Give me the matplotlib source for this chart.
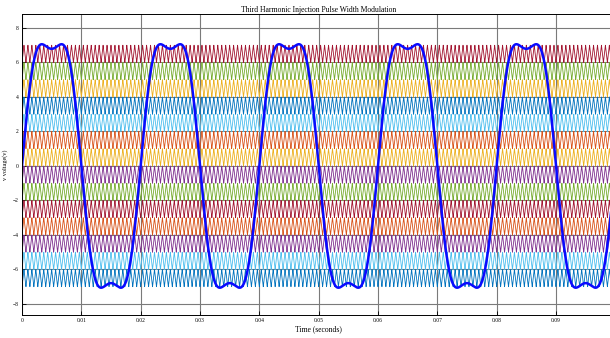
import numpy as np
import matplotlib
matplotlib.use("Agg")
import matplotlib.pyplot as plt

# signal parameters
f_mod = 50.0            # modulating frequency (Hz)
f_car = 1500.0          # carrier frequency (Hz)
amp_mod = 8.15          # fundamental amplitude
third_ratio = 1.0 / 6   # third harmonic injection ratio
t_end = 0.1

# carrier bands (lower edge), top to bottom, and their colours
band_lows = [6, 5, 4, 3, 2, 1, 0, -1, -2, -3, -4, -5, -6, -7]
band_colors = ["#a2142f", "#77ac30", "#edb120", "#0072bd", "#4dbeee", "#d95319", "#edb120",
               "#7e2f8e", "#77ac30", "#a2142f", "#d95319", "#7e2f8e", "#4dbeee", "#0072bd"]

x_ticks = [0, 0.01, 0.02, 0.03, 0.04, 0.05, 0.06, 0.07, 0.08, 0.09]
x_labels = ["0", "0.01", "0.02", "0.03", "0.04", "0.05", "0.06", "0.07", "0.08", "0.09"]
y_ticks = [-8, -6, -4, -2, 0, 2, 4, 6, 8]

t = np.linspace(0, t_end, 40001)
w = 2 * np.pi * f_mod
mod = amp_mod * (np.sin(w * t) + third_ratio * np.sin(3 * w * t))
tri = 1 - np.abs(((t * f_car) % 1.0) * 2 - 1)   # 0..1 triangle

plt.rcParams["font.family"] = ["Liberation Serif", "DejaVu Serif"]

fig = plt.figure(figsize=(6.1, 3.38), dpi=100)
ax = fig.add_axes([22 / 610, 23 / 338, 593.3 / 610, 301 / 338])

for lo, c in zip(band_lows, band_colors):
    ax.plot(t, lo + tri, color=c, lw=0.6)

ax.plot(t, mod, color="#0a0aff", lw=1.8)

ax.set_xlim(0, t_end)
ax.set_ylim(-8.64, 8.81)
ax.set_xticks(x_ticks)
ax.set_xticklabels(x_labels)
ax.set_yticks(y_ticks)
ax.grid(True, color="#7a7a7a", lw=0.8)
ax.set_axisbelow(True)
ax.tick_params(direction="in", labelsize=4, length=3, width=0.6, pad=2.5)
for s in ax.spines.values():
    s.set_linewidth(0.7)

ax.set_title("Third Harmonic Injection Pulse Width Modulation", fontsize=5.5, pad=1.5)
ax.set_xlabel("Time (seconds)", fontsize=5.5, labelpad=1)
ax.set_ylabel("v voltage(v)", fontsize=4.5, labelpad=3)

fig.savefig("out.png", dpi=100)
